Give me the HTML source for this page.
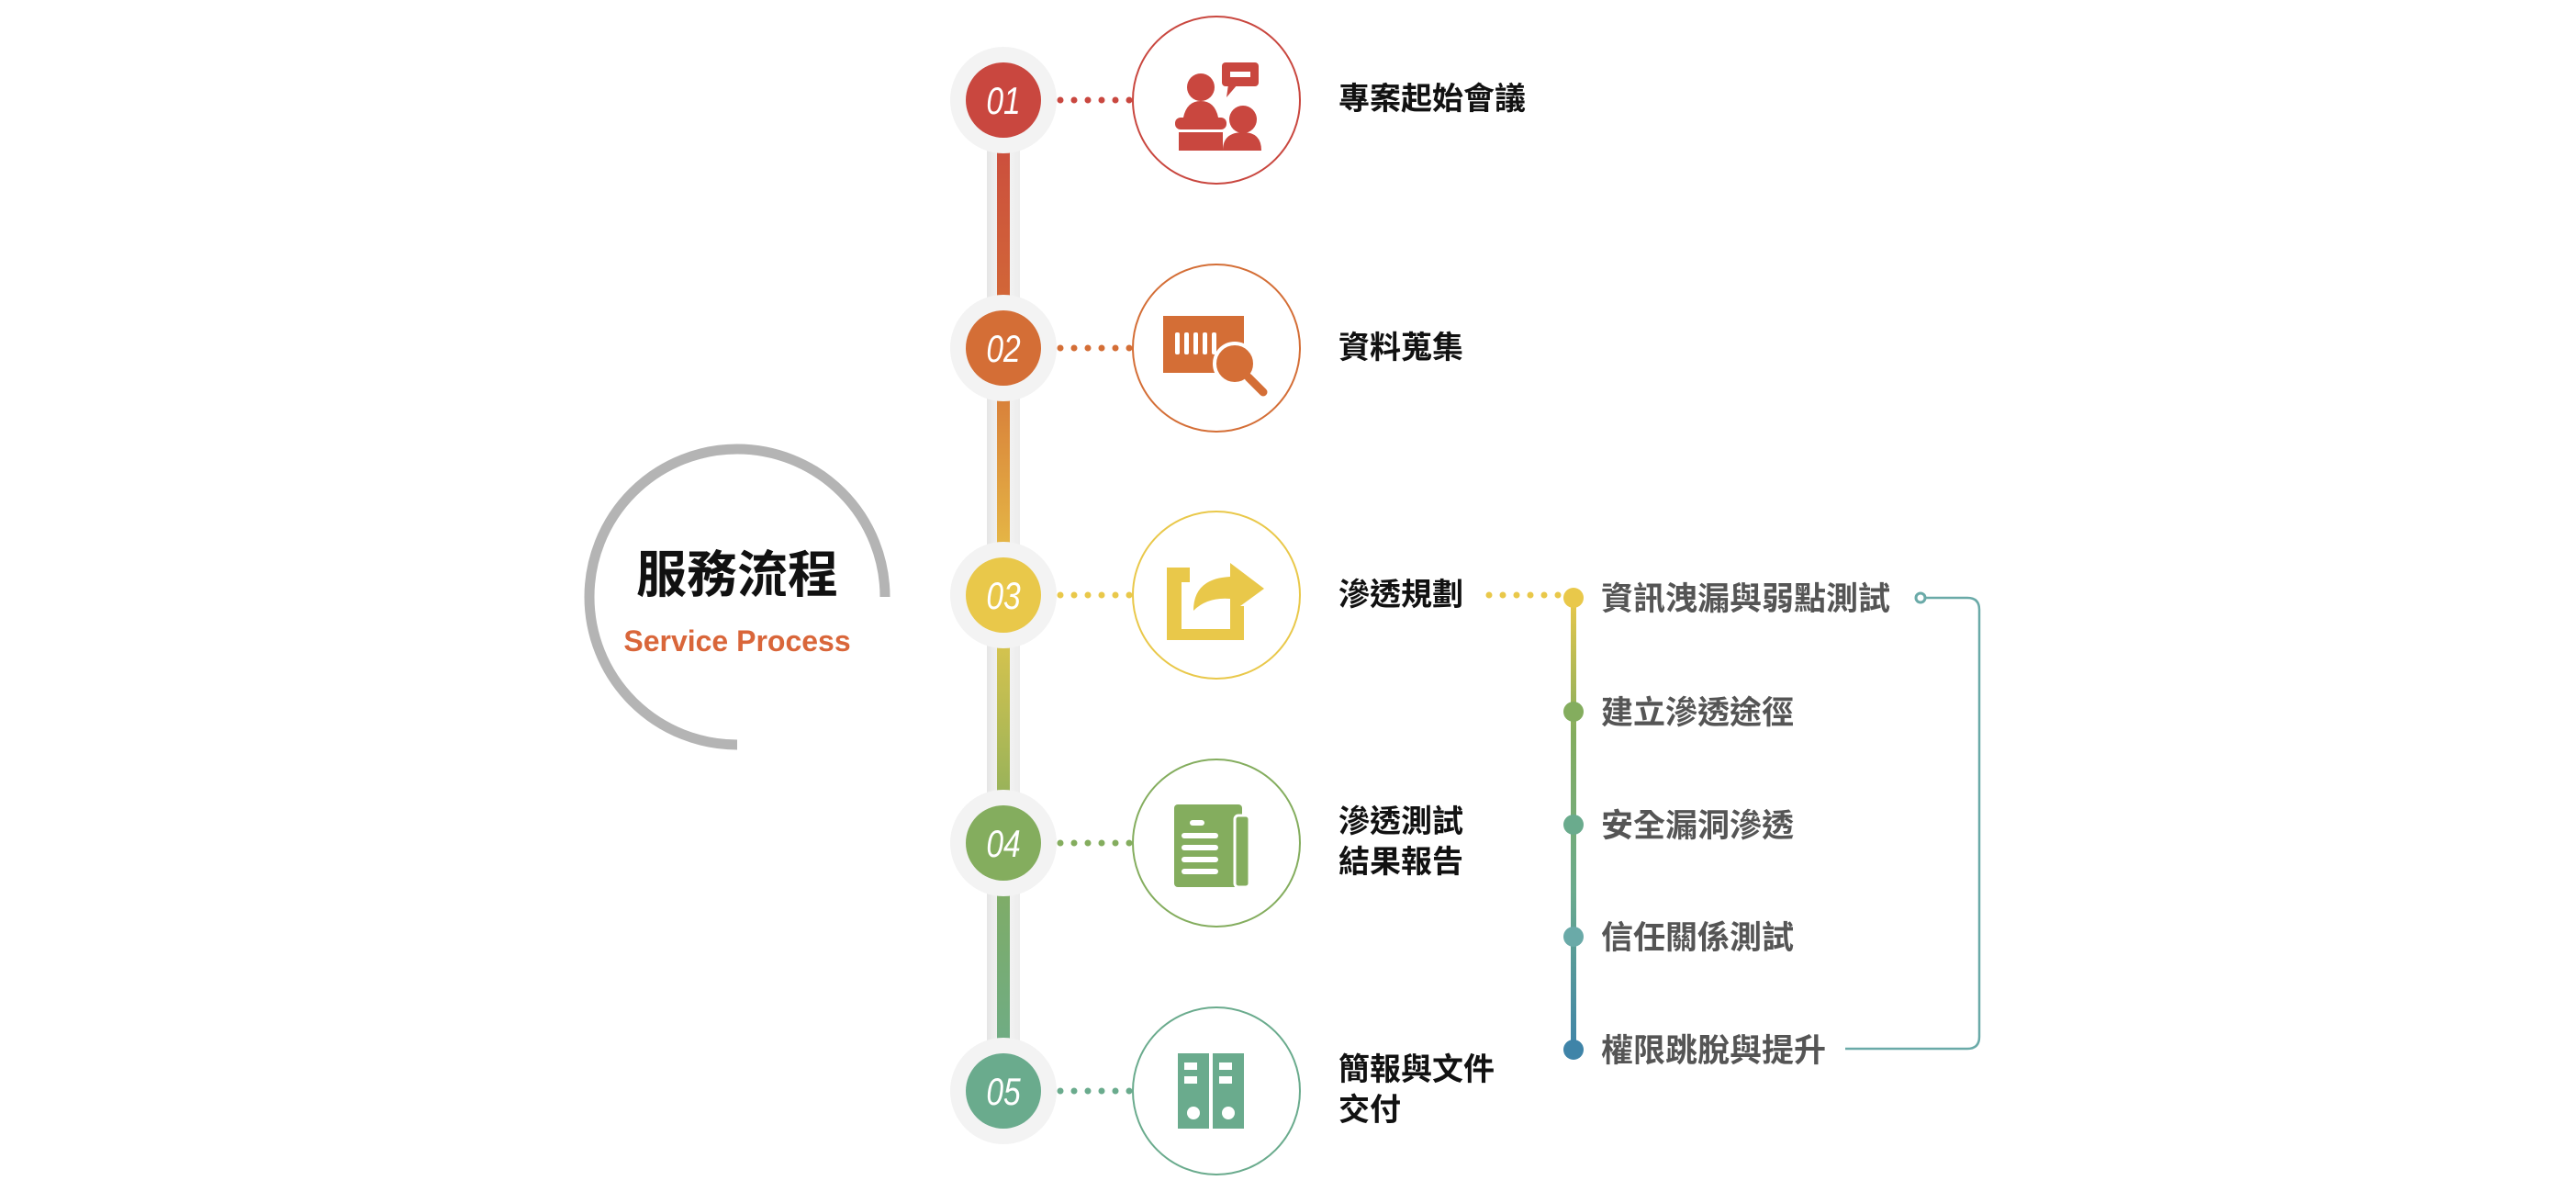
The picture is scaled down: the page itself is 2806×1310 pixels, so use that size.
<!DOCTYPE html>
<html><head><meta charset="utf-8"><style>
html,body{margin:0;padding:0;background:#fff;}
svg{display:block}
text{font-family:"Liberation Sans","Noto Sans CJK TC",sans-serif;}
</style></head><body>
<svg width="2806" height="1310" viewBox="0 0 2806 1310" xmlns="http://www.w3.org/2000/svg">
<defs>
<linearGradient id="main" x1="0" y1="109" x2="0" y2="1188" gradientUnits="userSpaceOnUse">
<stop offset="0" stop-color="#c9473f"/><stop offset="0.25" stop-color="#d46e36"/><stop offset="0.5" stop-color="#e9c84a"/><stop offset="0.75" stop-color="#84ad5e"/><stop offset="1" stop-color="#6aab8d"/>
</linearGradient>
<linearGradient id="sub" x1="0" y1="651" x2="0" y2="1143" gradientUnits="userSpaceOnUse">
<stop offset="0" stop-color="#e9c84a"/><stop offset="0.3" stop-color="#84ad5e"/><stop offset="0.65" stop-color="#6aab8d"/><stop offset="1" stop-color="#3f84a8"/>
</linearGradient>
<linearGradient id="trk" x1="0" x2="1" y1="0" y2="0">
<stop offset="0" stop-color="#e6e6e6"/><stop offset="0.5" stop-color="#f6f6f6"/><stop offset="1" stop-color="#ececec"/>
</linearGradient>
</defs>
<path d="M803 811 A161 161 0 1 1 964 650" fill="none" stroke="#b4b4b4" stroke-width="11"/>
<text x="803" y="645" font-size="55" font-weight="bold" text-anchor="middle" fill="#111">服務流程</text>
<text x="803" y="709" font-size="32" font-weight="bold" text-anchor="middle" fill="#d9663a">Service Process</text>

<rect x="1075" y="109" width="36" height="1079" fill="url(#trk)"/>
<rect x="1086" y="109" width="14" height="1079" fill="url(#main)"/>

<g font-size="42" font-style="italic" fill="#fff" text-anchor="middle">
<circle cx="1093" cy="109" r="58" fill="#f3f3f3"/><circle cx="1093" cy="109" r="41" fill="#c9473f"/><text transform="translate(1093 124) scale(0.8 1)">01</text>
<circle cx="1093" cy="379" r="58" fill="#f3f3f3"/><circle cx="1093" cy="379" r="41" fill="#d46e36"/><text transform="translate(1093 394) scale(0.8 1)">02</text>
<circle cx="1093" cy="648" r="58" fill="#f3f3f3"/><circle cx="1093" cy="648" r="41" fill="#e9c84a"/><text transform="translate(1093 663) scale(0.8 1)">03</text>
<circle cx="1093" cy="918" r="58" fill="#f3f3f3"/><circle cx="1093" cy="918" r="41" fill="#84ad5e"/><text transform="translate(1093 933) scale(0.8 1)">04</text>
<circle cx="1093" cy="1188" r="58" fill="#f3f3f3"/><circle cx="1093" cy="1188" r="41" fill="#6aab8d"/><text transform="translate(1093 1203) scale(0.8 1)">05</text>
</g>

<g stroke-width="7" stroke-linecap="round" stroke-dasharray="0 15" fill="none">
<line x1="1155" y1="109" x2="1232" y2="109" stroke="#c9473f"/>
<line x1="1155" y1="379" x2="1232" y2="379" stroke="#d46e36"/>
<line x1="1155" y1="648" x2="1232" y2="648" stroke="#e9c84a"/>
<line x1="1155" y1="918" x2="1232" y2="918" stroke="#84ad5e"/>
<line x1="1155" y1="1188" x2="1232" y2="1188" stroke="#6aab8d"/>
<line x1="1622" y1="648" x2="1700" y2="648" stroke="#e9c84a"/>
</g>

<g fill="#fff" stroke-width="2">
<circle cx="1325" cy="109" r="91" stroke="#c9473f"/>
<circle cx="1325" cy="379" r="91" stroke="#d46e36"/>
<circle cx="1325" cy="648" r="91" stroke="#e9c84a"/>
<circle cx="1325" cy="918" r="91" stroke="#84ad5e"/>
<circle cx="1325" cy="1188" r="91" stroke="#6aab8d"/>
</g>
<g fill="#c9473f">
<circle cx="1308" cy="95" r="15"/><path d="M1288 135 Q1290 110 1308 110 Q1326 110 1328 135Z"/>
<rect x="1280" y="128" width="56" height="13" rx="6"/><rect x="1284" y="144" width="48" height="20"/>
<rect x="1331" y="68" width="40" height="26" rx="4"/><path d="M1338 92 L1336 106 L1348 92Z"/>
<circle cx="1354" cy="130" r="15"/><path d="M1332 164 Q1332 144 1354 144 Q1374 144 1374 164Z"/>
</g><rect x="1340" y="78" width="22" height="6" fill="#fff"/>
<g fill="#d46e36"><rect x="1267" y="344" width="88" height="62"/><circle cx="1345" cy="396" r="22" fill="#d46e36" stroke="#fff" stroke-width="4"/><line x1="1360" y1="411" x2="1376" y2="427" stroke="#d46e36" stroke-width="9" stroke-linecap="round"/></g>
<g fill="#fff"><rect x="1280" y="362" width="5" height="24" rx="2"/><rect x="1290" y="362" width="5" height="24" rx="2"/><rect x="1300" y="362" width="5" height="24" rx="2"/><rect x="1310" y="362" width="5" height="24" rx="2"/><rect x="1320" y="362" width="5" height="24" rx="2"/></g>
<path d="M1271 618 H1296 V634 H1287 V685 H1340 V660 H1355 V697 H1271Z" fill="#e9c84a"/>
<path d="M1300 665 Q1300 630 1340 628 V613 L1377 641 L1340 668 V652 Q1315 650 1300 665Z" fill="#e9c84a"/>
<rect x="1279" y="876" width="74" height="90" rx="4" fill="#84ad5e"/>
<rect x="1345" y="888" width="16" height="78" rx="4" fill="#84ad5e" stroke="#fff" stroke-width="3"/>
<g fill="#fff"><rect x="1296" y="893" width="16" height="6" rx="3"/><rect x="1287" y="907" width="40" height="6" rx="3"/><rect x="1287" y="920" width="40" height="6" rx="3"/><rect x="1287" y="933" width="40" height="6" rx="3"/><rect x="1287" y="946" width="40" height="6" rx="3"/></g>
<g fill="#6aab8d"><rect x="1283" y="1147" width="34" height="82"/><rect x="1321" y="1147" width="34" height="82"/></g>
<g fill="#fff"><rect x="1290" y="1157" width="14" height="8"/><rect x="1290" y="1172" width="14" height="8"/><rect x="1328" y="1157" width="14" height="8"/><rect x="1328" y="1172" width="14" height="8"/><circle cx="1300" cy="1212" r="7"/><circle cx="1338" cy="1212" r="7"/></g>

<g font-size="34" font-weight="bold" fill="#111">
<text x="1458" y="119">專案起始會議</text>
<text x="1458" y="390">資料蒐集</text>
<text x="1458" y="659">滲透規劃</text>
<text x="1458" y="906">滲透測試</text>
<text x="1458" y="950">結果報告</text>
<text x="1458" y="1176">簡報與文件</text>
<text x="1458" y="1220">交付</text>
</g>

<rect x="1711" y="651" width="6" height="492" fill="url(#sub)"/>
<circle cx="1714" cy="651" r="11" fill="#e9c84a"/>
<circle cx="1714" cy="775" r="11" fill="#84ad5e"/>
<circle cx="1714" cy="898" r="11" fill="#6aab8d"/>
<circle cx="1714" cy="1020" r="11" fill="#6aaaa8"/>
<circle cx="1714" cy="1143" r="11" fill="#3f84a8"/>
<g font-size="35" font-weight="bold" fill="#555">
<text x="1744" y="664">資訊洩漏與弱點測試</text>
<text x="1744" y="788">建立滲透途徑</text>
<text x="1744" y="911">安全漏洞滲透</text>
<text x="1744" y="1033">信任關係測試</text>
<text x="1744" y="1156">權限跳脫與提升</text>
</g>
<path d="M2097 651 H2143 Q2156 651 2156 664 V1129 Q2156 1142 2143 1142 H2010" fill="none" stroke="#6aaaa8" stroke-width="2.5"/>
<circle cx="2092" cy="651" r="5" fill="#fff" stroke="#6aaaa8" stroke-width="3"/>
</svg>
</body></html>
